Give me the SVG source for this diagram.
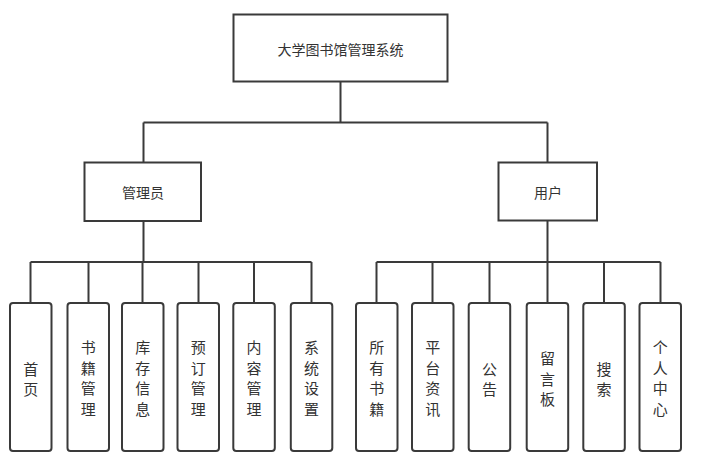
<svg xmlns="http://www.w3.org/2000/svg" width="701" height="462" viewBox="0 0 701 462">
<style>
.box{fill:#fff;stroke:#3a3a3a;stroke-width:2}
.leaf{fill:#fff;stroke:#3a3a3a;stroke-width:2}
.conn{fill:none;stroke:#3a3a3a;stroke-width:2}
text{font-family:"Microsoft YaHei","Noto Sans CJK SC",sans-serif;font-size:14px;fill:#333;text-anchor:middle;dominant-baseline:central}
.v{font-size:15px}
</style>
<rect width="701" height="462" fill="#fff"/>
<g id="connectors">
<path class="conn" d="M340.5 82V122.5M143.5 122.5H547.5M143.5 122.5V163M547.5 122.5V163"/>
<path class="conn" d="M143.5 221V262M30.5 262H311.5M30.5 262V303M88.5 262V303M142.5 262V303M198.5 262V303M254 262V303M311.5 262V303"/>
<path class="conn" d="M547.5 221V262M376.5 262H660.5M376.5 262V303M432.5 262V303M489.5 262V303M547.5 262V303M604 262V303M660.5 262V303"/>
</g>
<g id="root"><rect class="box" x="233.5" y="14.5" width="214" height="67"/><text x="340.5" y="49">大学图书馆管理系统</text></g>
<g id="admin"><rect class="box" x="84.5" y="162.5" width="116.5" height="58.5"/><text x="143" y="192">管理员</text></g>
<g id="user"><rect class="box" x="498.5" y="162.5" width="98.5" height="58"/><text x="548" y="192">用户</text></g>
<g id="n1"><rect class="leaf" x="10" y="303" width="41.5" height="148" rx="3"/><text class="v" x="30.8"><tspan x="30.8" y="367.7">首</tspan><tspan x="30.8" y="388">页</tspan></text></g>
<g id="n2"><rect class="leaf" x="67.5" y="303" width="41.5" height="148" rx="3"/><text class="v"><tspan x="88.2" y="346">书</tspan><tspan x="88.2" y="366.7">籍</tspan><tspan x="88.2" y="387.3">管</tspan><tspan x="88.2" y="408">理</tspan></text></g>
<g id="n3"><rect class="leaf" x="122" y="303" width="41.5" height="148" rx="3"/><text class="v"><tspan x="142.7" y="346">库</tspan><tspan x="142.7" y="366.7">存</tspan><tspan x="142.7" y="387.3">信</tspan><tspan x="142.7" y="408">息</tspan></text></g>
<g id="n4"><rect class="leaf" x="177.5" y="303" width="41.5" height="148" rx="3"/><text class="v"><tspan x="198.2" y="346">预</tspan><tspan x="198.2" y="366.7">订</tspan><tspan x="198.2" y="387.3">管</tspan><tspan x="198.2" y="408">理</tspan></text></g>
<g id="n5"><rect class="leaf" x="233.3" y="303" width="41.5" height="148" rx="3"/><text class="v"><tspan x="254" y="346">内</tspan><tspan x="254" y="366.7">容</tspan><tspan x="254" y="387.3">管</tspan><tspan x="254" y="408">理</tspan></text></g>
<g id="n6"><rect class="leaf" x="290.8" y="303" width="41.5" height="148" rx="3"/><text class="v"><tspan x="311.5" y="346">系</tspan><tspan x="311.5" y="366.7">统</tspan><tspan x="311.5" y="387.3">设</tspan><tspan x="311.5" y="408">置</tspan></text></g>
<g id="n7"><rect class="leaf" x="356" y="303" width="41.5" height="148" rx="3"/><text class="v"><tspan x="376.7" y="346">所</tspan><tspan x="376.7" y="366.7">有</tspan><tspan x="376.7" y="387.3">书</tspan><tspan x="376.7" y="408">籍</tspan></text></g>
<g id="n8"><rect class="leaf" x="412" y="303" width="41.5" height="148" rx="3"/><text class="v"><tspan x="432.7" y="346">平</tspan><tspan x="432.7" y="366.7">台</tspan><tspan x="432.7" y="387.3">资</tspan><tspan x="432.7" y="408">讯</tspan></text></g>
<g id="n9"><rect class="leaf" x="468.7" y="303" width="41.5" height="148" rx="3"/><text class="v"><tspan x="489.4" y="367.7">公</tspan><tspan x="489.4" y="388">告</tspan></text></g>
<g id="n10"><rect class="leaf" x="526.7" y="303" width="41.5" height="148" rx="3"/><text class="v"><tspan x="547.5" y="356.7">留</tspan><tspan x="547.5" y="377.5">言</tspan><tspan x="547.5" y="398.3">板</tspan></text></g>
<g id="n11"><rect class="leaf" x="583.3" y="303" width="41.5" height="148" rx="3"/><text class="v"><tspan x="604" y="367.7">搜</tspan><tspan x="604" y="388">索</tspan></text></g>
<g id="n12"><rect class="leaf" x="639.5" y="303" width="41.5" height="148" rx="3"/><text class="v"><tspan x="660.3" y="346">个</tspan><tspan x="660.3" y="366.7">人</tspan><tspan x="660.3" y="387.3">中</tspan><tspan x="660.3" y="408">心</tspan></text></g>
</svg>
